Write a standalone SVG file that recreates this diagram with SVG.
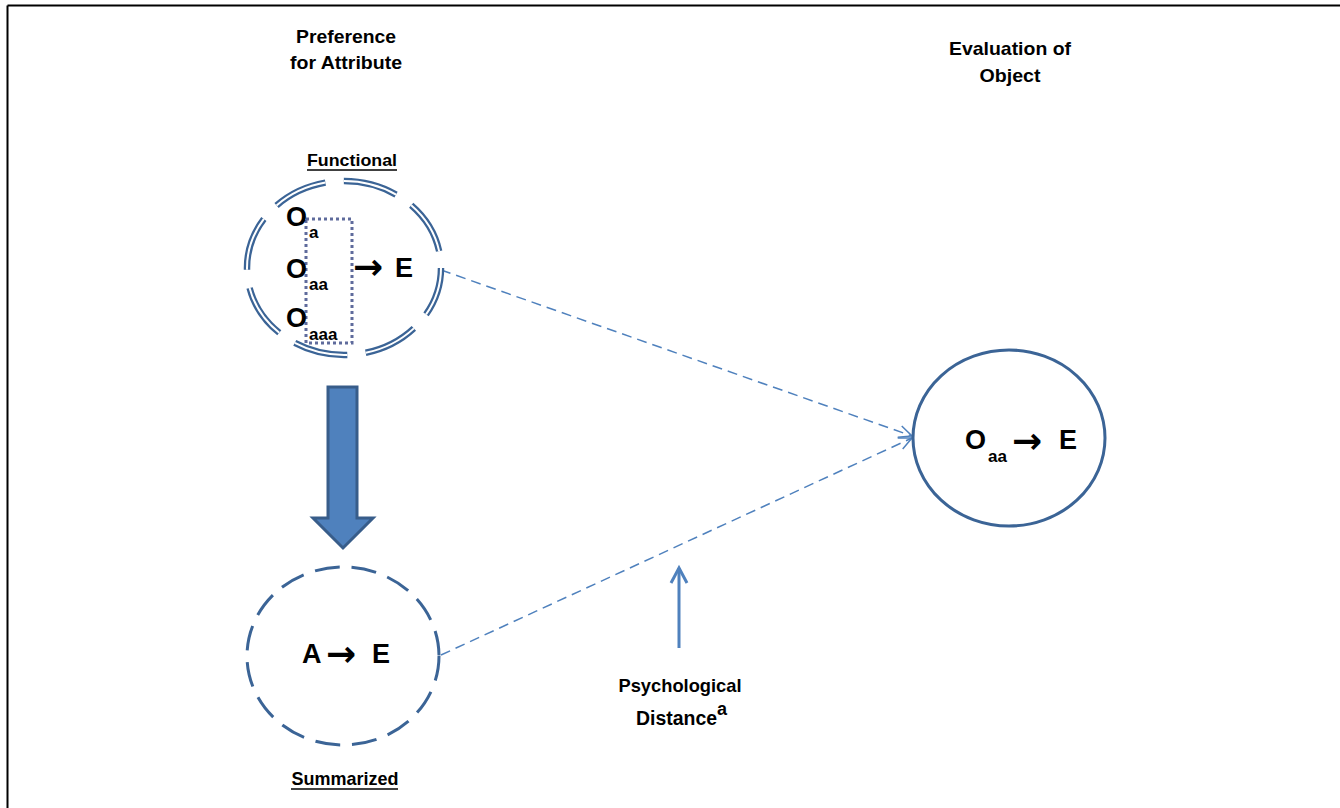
<svg xmlns="http://www.w3.org/2000/svg" width="1340" height="808" viewBox="0 0 1340 808">
<style>
.t{font-family:"Liberation Sans",Arial,sans-serif;font-weight:bold;fill:#000}
.lbl{font-size:19px;text-anchor:middle}
.big{font-size:27px}
.sub{font-size:17px}
.arr{font-family:"DejaVu Sans",sans-serif;font-weight:bold;font-size:36px;fill:#000}
.conn{fill:none;stroke:#4f81bd;stroke-width:1.5;stroke-dasharray:10 6}
</style>
<defs>
<marker id="open" markerUnits="userSpaceOnUse" markerWidth="20" markerHeight="20" refX="14" refY="7" orient="auto">
<path d="M1,1 L14,7 L1,13" fill="none" stroke="#4f81bd" stroke-width="1.5"/>
</marker>
<marker id="up" markerUnits="userSpaceOnUse" markerWidth="24" markerHeight="24" refX="17" refY="10" orient="auto">
<path d="M2,2 L17,10 L2,18" fill="none" stroke="#4f81bd" stroke-width="3"/>
</marker>
</defs>
<rect width="1340" height="808" fill="#fff"/>
<g id="frame" stroke="#000" stroke-width="2" fill="none">
<line x1="7.5" y1="5.5" x2="1340" y2="5.5"/>
<line x1="7.5" y1="5.5" x2="7.5" y2="808"/>
</g>
<g id="headings">
<text class="t lbl" x="346" y="43" textLength="100" lengthAdjust="spacingAndGlyphs">Preference</text>
<text class="t lbl" x="346" y="69" textLength="112" lengthAdjust="spacingAndGlyphs">for Attribute</text>
<text class="t lbl" x="1010" y="55" textLength="122" lengthAdjust="spacingAndGlyphs">Evaluation of</text>
<text class="t lbl" x="1010" y="82" textLength="61" lengthAdjust="spacingAndGlyphs">Object</text>
</g>
<g id="connectors">
<line class="conn" x1="441" y1="270" x2="912" y2="436" marker-end="url(#open)"/>
<line class="conn" x1="441" y1="655" x2="912" y2="438" marker-end="url(#open)"/>
<line x1="679" y1="648" x2="679" y2="568" stroke="#4f81bd" stroke-width="3" marker-end="url(#up)"/>
<path d="M328,387 H357 V518 H373 L343,548 L313,518 H328 Z" fill="#4f81bd" stroke="#385d8a" stroke-width="3" stroke-linejoin="miter"/>
</g>
<g id="functional">
<text class="t" x="352" y="166" font-size="17" text-anchor="middle" textLength="90" lengthAdjust="spacingAndGlyphs">Functional</text>
<line x1="307" y1="170" x2="397" y2="170" stroke="#000" stroke-width="1.5"/>
<ellipse cx="344" cy="268" rx="97" ry="87" fill="none" stroke="#3b6496" stroke-width="6.5" stroke-dasharray="54.5 18.5" stroke-dashoffset="5"/>
<ellipse cx="344" cy="268" rx="97" ry="87" fill="none" stroke="#fff" stroke-width="2" stroke-dasharray="54.5 18.5" stroke-dashoffset="5"/>
<rect x="306" y="219" width="46" height="124" fill="none" stroke="#5f6b9c" stroke-width="3" stroke-dasharray="3 3"/>
<text class="t big" x="286" y="226">O</text>
<text class="t sub" x="309" y="238">a</text>
<text class="t big" x="286" y="278">O</text>
<text class="t sub" x="309" y="290">aa</text>
<text class="t big" x="286" y="327">O</text>
<text class="t sub" x="309" y="340">aaa</text>
<text class="arr" x="353" y="279">→</text>
<text class="t big" x="395" y="277">E</text>
</g>
<g id="summarized">
<ellipse cx="343" cy="656" rx="96" ry="89" fill="none" stroke="#3b6496" stroke-width="3" stroke-dasharray="25 12"/>
<text class="t big" x="302" y="663">A</text>
<text class="arr" x="326" y="666">→</text>
<text class="t big" x="372" y="663">E</text>
<text class="t" x="345" y="785" font-size="19" text-anchor="middle" textLength="107" lengthAdjust="spacingAndGlyphs">Summarized</text>
<line x1="291" y1="789" x2="398" y2="789" stroke="#000" stroke-width="1.5"/>
</g>
<g id="object">
<ellipse cx="1009" cy="438" rx="96" ry="88" fill="none" stroke="#3b6496" stroke-width="3"/>
<text class="t big" x="965" y="449">O</text>
<text class="t sub" x="988" y="462">aa</text>
<text class="arr" x="1012" y="453">→</text>
<text class="t big" x="1059" y="449">E</text>
</g>
<g id="distance">
<text class="t lbl" x="680" y="692" textLength="123" lengthAdjust="spacingAndGlyphs">Psychological</text>
<text class="t" x="636" y="725" font-size="20" textLength="81" lengthAdjust="spacingAndGlyphs">Distance</text>
<text class="t" x="717" y="715" font-size="18">a</text>
</g>
</svg>
